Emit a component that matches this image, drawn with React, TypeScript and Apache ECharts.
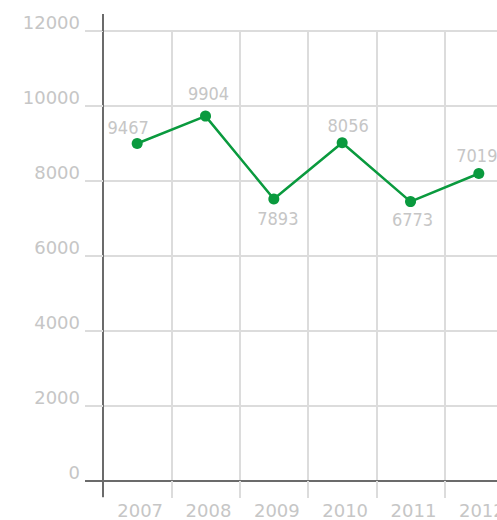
import React, { useEffect, useRef } from "react";
import * as echarts from "echarts";

const categories = ["2007", "2008", "2009", "2010", "2011", "2012"];
const values = [9000, 9730, 7520, 9020, 7450, 8200];
const labelTexts = ["9467", "9904", "7893", "8056", "6773", "7019"];
const labelPositions = ["top", "top", "bottom", "top", "bottom", "top"];
const labelOffsets: [number, number][] = [
  [-9, 3],
  [3, -3],
  [4, 0],
  [6, 2],
  [2, -2],
  [-2, 1],
];

const GRID_LEFT = 103;
const GRID_TOP = 31;
const GRID_H = 450;
const GRID_W = 410;
const AXIS_DARK = "#6b6b6b";
const LIGHT = "#dcdcdc";
const TEXT = "#c6c6c6";

export default function App() {
  const ref = useRef<HTMLDivElement>(null);
  useEffect(() => {
    if (!ref.current) return;
    const chart = echarts.init(ref.current, null, { renderer: "svg" });
    const bottom = GRID_TOP + GRID_H;
    chart.setOption({
      animation: false,
      backgroundColor: "#ffffff",
      grid: {
        left: GRID_LEFT,
        top: GRID_TOP,
        width: GRID_W,
        height: GRID_H,
        containLabel: false,
        outerBoundsMode: "none",
      },
      xAxis: {
        type: "category",
        data: categories,
        boundaryGap: true,
        axisLine: { show: true, lineStyle: { color: AXIS_DARK, width: 2 } },
        axisTick: { show: true, interval: 0, length: 17, lineStyle: { color: LIGHT, width: 2 } },
        splitLine: { show: true, interval: 0, lineStyle: { color: LIGHT, width: 2 } },
        axisLabel: {
          interval: 0,
          margin: 20,
          color: TEXT,
          fontFamily: "DejaVu Sans",
          fontSize: 18,
          padding: [0, 0, 0, 6],
          hideOverlap: false,
        },
      },
      yAxis: {
        type: "value",
        min: 0,
        max: 12000,
        interval: 2000,
        axisLine: { show: true, lineStyle: { color: AXIS_DARK, width: 2 } },
        axisTick: { show: true, length: 18, lineStyle: { color: LIGHT, width: 2 } },
        splitLine: { show: true, lineStyle: { color: LIGHT, width: 2 } },
        axisLabel: {
          margin: 23,
          color: TEXT,
          fontFamily: "DejaVu Sans",
          fontSize: 18,
          verticalAlign: "bottom",
          lineHeight: 17,
          formatter: (v: number) => String(v),
        },
      },
      series: [
        {
          type: "line",
          data: values.map((v, i) => ({
            value: v,
            label: {
              show: true,
              position: labelPositions[i],
              offset: labelOffsets[i],
              formatter: labelTexts[i],
            },
          })),
          symbol: "circle",
          symbolSize: 11,
          lineStyle: { color: "#0a9a3e", width: 2.5 },
          itemStyle: { color: "#0a9a3e" },
          label: {
            show: true,
            color: TEXT,
            fontFamily: "DejaVu Sans Condensed",
            fontSize: 18,
          },
        },
      ],
      graphic: [
        {
          type: "line",
          z: 100,
          shape: { x1: GRID_LEFT, y1: 14, x2: GRID_LEFT, y2: GRID_TOP },
          style: { stroke: AXIS_DARK, lineWidth: 2 },
        },
        {
          type: "line",
          z: 100,
          shape: { x1: GRID_LEFT, y1: bottom, x2: GRID_LEFT, y2: 497 },
          style: { stroke: AXIS_DARK, lineWidth: 2 },
        },
        {
          type: "line",
          z: 100,
          shape: { x1: 85, y1: bottom, x2: GRID_LEFT, y2: bottom },
          style: { stroke: AXIS_DARK, lineWidth: 2 },
        },
      ],
    });
    return () => chart.dispose();
  }, []);
  return (
    <div
      ref={ref}
      style={{ position: "fixed", left: 0, top: 0, width: 497, height: 520 }}
    />
  );
}
